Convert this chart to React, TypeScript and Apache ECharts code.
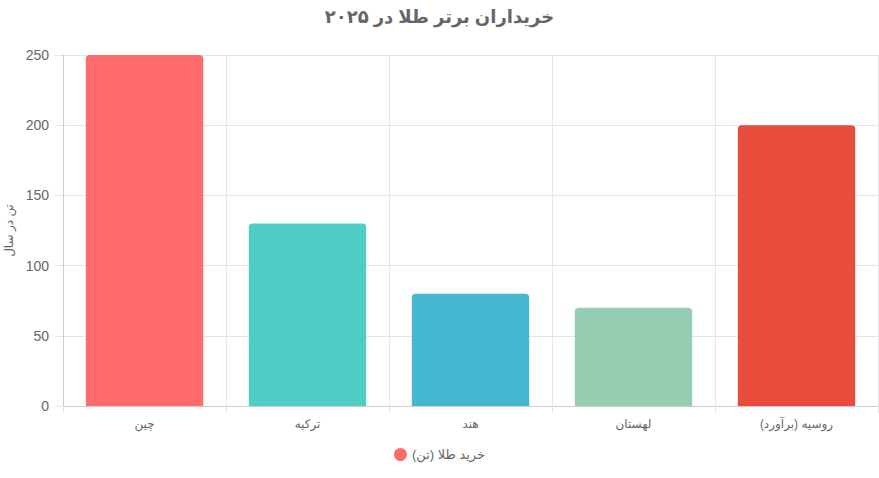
import { useEffect, useRef } from "react";
import * as echarts from "echarts";

const categories = ["چین", "ترکیه", "هند", "لهستان", "روسیه (برآورد)"];
const values = [250, 130, 80, 70, 200];
const barColors = ["#FF6B6B", "#4ECDC4", "#45B7D1", "#96CEB4", "#E74C3C"];
const seriesName = "خرید طلا (تن)";
const titleText = "خریداران برتر طلا در ۲۰۲۵";
const yAxisName = "تن در سال";

const font = "Arial, 'Liberation Sans', 'DejaVu Sans', sans-serif";

export default function App() {
  const ref = useRef<HTMLDivElement>(null);

  useEffect(() => {
    if (!ref.current) return;
    const chart = echarts.init(ref.current, undefined, { renderer: "svg" });
    chart.setOption({
      animation: false,
      textStyle: { fontFamily: font },
      title: {
        text: titleText,
        left: "center",
        top: 3,
        textStyle: { color: "#666", fontSize: 18, fontWeight: "bold", fontFamily: font },
      },
      legend: {
        bottom: 12,
        left: "center",
        icon: "circle",
        itemWidth: 13,
        itemHeight: 13,
        itemGap: 10,
        data: [{ name: seriesName, itemStyle: { color: barColors[0] } }],
        textStyle: { color: "#666", fontSize: 13, fontFamily: font },
      },
      grid: { left: 63, right: 1, top: 55, bottom: 72, outerBoundsMode: "none", containLabel: false },
      xAxis: {
        type: "category",
        data: categories,
        boundaryGap: true,
        axisLine: { lineStyle: { color: "#ccc" } },
        axisTick: { show: true, length: 7, lineStyle: { color: "#e5e5e5" } },
        splitLine: { show: true, lineStyle: { color: "#e5e5e5" } },
        axisLabel: { color: "#666", fontSize: 12, margin: 12 },
      },
      yAxis: {
        type: "value",
        min: 0,
        max: 250,
        interval: 50,
        name: yAxisName,
        nameLocation: "middle",
        nameGap: 46,
        nameRotate: 90,
        nameTextStyle: { color: "#666", fontSize: 12 },
        axisLine: { show: true, lineStyle: { color: "#ccc" } },
        axisTick: { show: true, length: 8, lineStyle: { color: "#e5e5e5" } },
        splitLine: { show: true, lineStyle: { color: "#e5e5e5" } },
        axisLabel: { color: "#666", fontSize: 14, margin: 14 },
      },
      series: [
        {
          name: seriesName,
          type: "bar",
          barWidth: "72%",
          data: values.map((v, i) => ({
            value: v,
            itemStyle: { color: barColors[i], borderRadius: [4, 4, 0, 0] },
          })),
        },
      ],
    });
    return () => chart.dispose();
  }, []);

  return (
    <div
      ref={ref}
      style={{ position: "absolute", left: 0, top: 0, width: 879, height: 478 }}
    />
  );
}
